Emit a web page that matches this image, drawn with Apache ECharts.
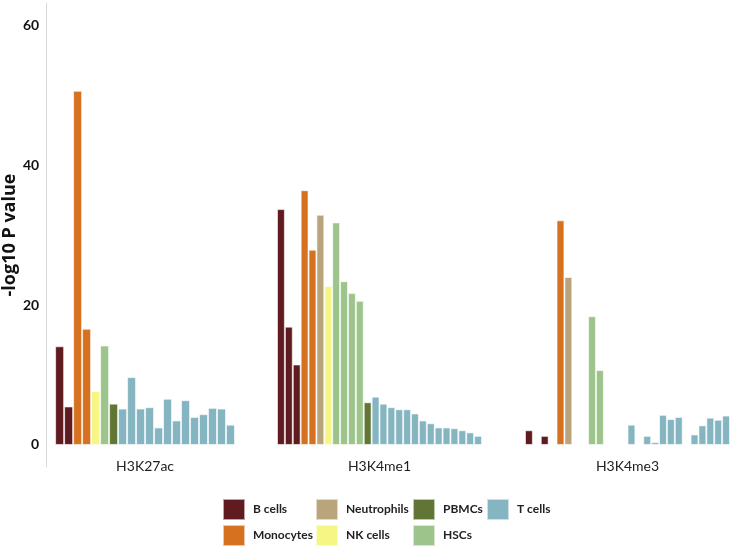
<!DOCTYPE html>
<html>
<head>
<meta charset="utf-8">
<script src="https://cdn.jsdelivr.net/npm/echarts@6/dist/echarts.min.js"></script>
<style>
html,body{margin:0;padding:0;background:#fff;}
#main{width:733px;height:548px;}
</style>
</head>
<body>
<div id="main"></div>
<script>
// ---- Data ----
const groupNames = ['H3K27ac', 'H3K4me1', 'H3K4me3'];
const cellTypes = ['B cells', 'Monocytes', 'Neutrophils', 'NK cells', 'HSCs', 'PBMCs', 'T cells'];
const yTickValues = [0, 20, 40, 60];

const h3k27acCells = ['B cells','B cells','Monocytes','Monocytes','NK cells','HSCs','PBMCs',
  'T cells','T cells','T cells','T cells','T cells','T cells','T cells','T cells','T cells','T cells','T cells','T cells','T cells'];
const h3k27acValues = [14.1, 5.5, 50.6, 16.6, 7.7, 14.2, 5.9,
  5.2, 9.7, 5.2, 5.4, 2.5, 6.6, 3.5, 6.4, 4.0, 4.4, 5.3, 5.2, 2.9];

const h3k4me1Cells = ['B cells','B cells','B cells','Monocytes','Monocytes','Neutrophils','NK cells',
  'HSCs','HSCs','HSCs','HSCs','PBMCs',
  'T cells','T cells','T cells','T cells','T cells','T cells','T cells','T cells','T cells','T cells','T cells','T cells','T cells','T cells'];
const h3k4me1Values = [33.7, 16.9, 11.5, 36.4, 27.9, 32.9, 22.7,
  31.8, 23.4, 21.7, 20.6, 6.1,
  6.9, 5.9, 5.4, 5.1, 5.1, 4.5, 3.5, 3.1, 2.5, 2.5, 2.4, 2.1, 1.8, 1.3];

const h3k4me3Cells = ['B cells', null, 'B cells', null, 'Monocytes', 'Neutrophils', null, null,
  'HSCs', 'HSCs', null, null, null, 'T cells', null, 'T cells', 'T cells', 'T cells', 'T cells', 'T cells',
  null, 'T cells', 'T cells', 'T cells', 'T cells', 'T cells'];
const h3k4me3Values = [2.1, null, 1.3, null, 32.1, 24.0, null, null,
  18.4, 10.7, null, null, null, 2.9, null, 1.3, 0.4, 4.3, 3.7, 4.0,
  null, 1.5, 2.8, 3.9, 3.6, 4.2];

// ---- Styles ----
const cellColors = {
  'B cells': '#5f1b1f',
  'Monocytes': '#d5711f',
  'Neutrophils': '#b9a47c',
  'NK cells': '#f6f684',
  'HSCs': '#9dc48b',
  'PBMCs': '#617634',
  'T cells': '#85b5c1'
};

const groupCells = [h3k27acCells, h3k4me1Cells, h3k4me3Cells];
const groupValues = [h3k27acValues, h3k4me1Values, h3k4me3Values];
const gridBoxes = [
  { left: 55, width: 180 },
  { left: 277, width: 205 },
  { left: 525, width: 205 }
];

const Y_MIN = -3.15, Y_MAX = 63.15;
const FONT = 'Lato, "Open Sans", sans-serif';

const grids = [], xAxes = [], yAxes = [], series = [];
groupNames.forEach((g, gi) => {
  grids.push({ left: gridBoxes[gi].left, width: gridBoxes[gi].width, top: 3, height: 464, containLabel: false });
  xAxes.push({
    type: 'category', gridIndex: gi, position: 'bottom',
    data: groupCells[gi].map((c, i) => String(i)),
    name: g, nameLocation: 'middle', nameGap: -8,
    nameTextStyle: { fontFamily: FONT, fontSize: 14, color: '#222' },
    axisLine: { show: false, onZero: false },
    axisTick: { show: false }, axisLabel: { show: false },
    splitLine: { show: false }
  });
  yAxes.push({
    type: 'value', gridIndex: gi, min: Y_MIN, max: Y_MAX,
    show: gi === 0,
    offset: 9,
    name: gi === 0 ? '-log10 P value' : '',
    nameLocation: 'middle', nameGap: 23,
    nameTextStyle: { fontFamily: '"Open Sans", sans-serif', fontSize: 18, fontWeight: 'bold', color: '#111' },
    axisLine: { show: true, lineStyle: { color: '#d6d6d6', width: 1 } },
    axisTick: { show: false, customValues: yTickValues },
    axisLabel: { show: true, customValues: yTickValues, margin: 7, fontFamily: FONT, fontSize: 14, fontWeight: 'bold', color: '#111' },
    splitLine: { show: false }
  });
  cellTypes.forEach(ct => {
    const data = groupValues[gi].map((v, i) => (groupCells[gi][i] === ct && v != null) ? v : '-');
    series.push({
      type: 'bar', name: ct, xAxisIndex: gi, yAxisIndex: gi,
      stack: 'g' + gi, barWidth: '100%', barCategoryGap: '0%',
      data: data,
      itemStyle: { color: cellColors[ct], borderColor: 'rgba(255,255,255,0.6)', borderWidth: 1 },
      emphasis: { disabled: true },
      animation: false
    });
  });
});

const legendCols = [
  { left: 222, names: ['B cells', 'Monocytes'] },
  { left: 315, names: ['Neutrophils', 'NK cells'] },
  { left: 412, names: ['PBMCs', 'HSCs'] },
  { left: 486, names: ['T cells'] }
];
const legends = legendCols.map(c => ({
  orient: 'vertical', left: c.left, top: 498, padding: 0,
  itemWidth: 22, itemHeight: 21, itemGap: 3, icon: 'rect',
  selectedMode: false,
  data: c.names,
  textStyle: { fontFamily: FONT, fontSize: 12, fontWeight: 'bold', color: '#222', padding: [0, 0, 0, 3] }
}));

const chart = echarts.init(document.getElementById('main'), null, { renderer: 'canvas' });
chart.setOption({
  animation: false,
  backgroundColor: '#fff',
  grid: grids,
  xAxis: xAxes,
  yAxis: yAxes,
  legend: legends,
  series: series
});
</script>
</body>
</html>
